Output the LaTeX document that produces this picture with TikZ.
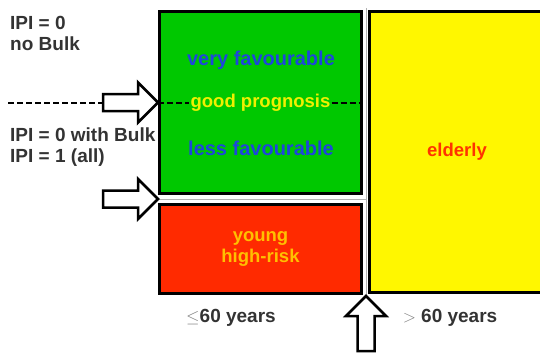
\documentclass[tikz,border=0pt]{standalone}
\usepackage{fontspec}
\setmainfont{Liberation Sans}
\usetikzlibrary{positioning,calc}
\definecolor{boxgreen}{HTML}{00C800}
\definecolor{boxred}{HTML}{FF2A00}
\definecolor{boxyellow}{HTML}{FFF700}
\definecolor{favblue}{HTML}{1E46DC}
\definecolor{progyellow}{HTML}{F0F000}
\definecolor{youngtext}{HTML}{FFC000}
\definecolor{eldertext}{HTML}{FF3300}
\definecolor{labelgray}{HTML}{333333}
\tikzset{
  agebox/.style={draw, line width=3pt, inner sep=0pt, align=center,
                 font=\bfseries\fontsize{18.5}{21}\selectfont},
  boxtext/.style={font=\bfseries\fontsize{20}{23}\selectfont, inner sep=1pt},
  sidelabel/.style={font=\bfseries\fontsize{19}{21}\selectfont, text=labelgray,
                    align=left, anchor=west, inner sep=0pt},
  cutline/.style={line width=2pt, dash pattern=on 6pt off 3pt},
  axisline/.style={gray!60, line width=1pt},
  pics/blockarrow/.style={code={
    \draw[line width=2.5pt, fill=white, line join=miter]
      (0,0) -- (-20,20) -- (-20,8.5) -- (-55,8.5) -- (-55,-8.5)
      -- (-20,-8.5) -- (-20,-20) -- cycle;}},
}

\begin{document}
\begin{tikzpicture}[x=1pt, y=-1pt]
    \useasboundingbox (0,0) rectangle (540,354);
    \clip (0,0) rectangle (540,354);
    \node[agebox, fill=boxgreen, minimum width=202pt, minimum height=182pt] (good) at (260.5,102.5) {};
    \node[agebox, fill=boxred, text=youngtext, minimum width=202pt, minimum height=89pt] (young) at (260.5,249) {young\\high-risk};
    \node[agebox, fill=boxyellow, text=eldertext, minimum width=175pt, minimum height=281pt] (elderly) at (457,152) {elderly};
    \coordinate (split) at (366,296);
    \coordinate (splittop) at (366,8);
    \coordinate (youngtop) at ($(good.south west)!0.5!(young.north west)$);
    \draw[axisline] (youngtop) -- (youngtop -| split);
    \draw[axisline] (splittop) -- (split);
    \node[boxtext, text=favblue] (vfav) at (261,60) {very favourable};
    \node[boxtext, text=progyellow, font=\bfseries\fontsize{18.5}{21}\selectfont] (prog) at (good.center) {good prognosis};
    \node[boxtext, text=favblue] (lfav) at (261,148) {less favourable};
    \draw[cutline] (good.west) -- (prog.west);
    \draw[cutline] (prog.east) -- (good.east);
    \node[sidelabel] (nobulk) at (10,33) {IPI = 0\\no Bulk};
    \node[sidelabel] (bulk) at (10,147.5) {IPI = 0 with Bulk\\IPI = 1 (all)};
    \coordinate (dashstart) at (8,102.5);
    \draw[cutline] (dashstart) -- ([xshift=-52pt]good.west);
    \pic at (good.west) {blockarrow};
    \pic at (youngtop) {blockarrow};
    \pic[rotate=90] at (split) {blockarrow};
    \node[sidelabel, anchor=center] (young age) at (231,318) {\textcolor{gray}{$\leq$}60 years};
    \node[sidelabel, anchor=center] (old age) at (450,318) {\textcolor{gray}{$>$} 60 years};
  \end{tikzpicture}
\end{document}
